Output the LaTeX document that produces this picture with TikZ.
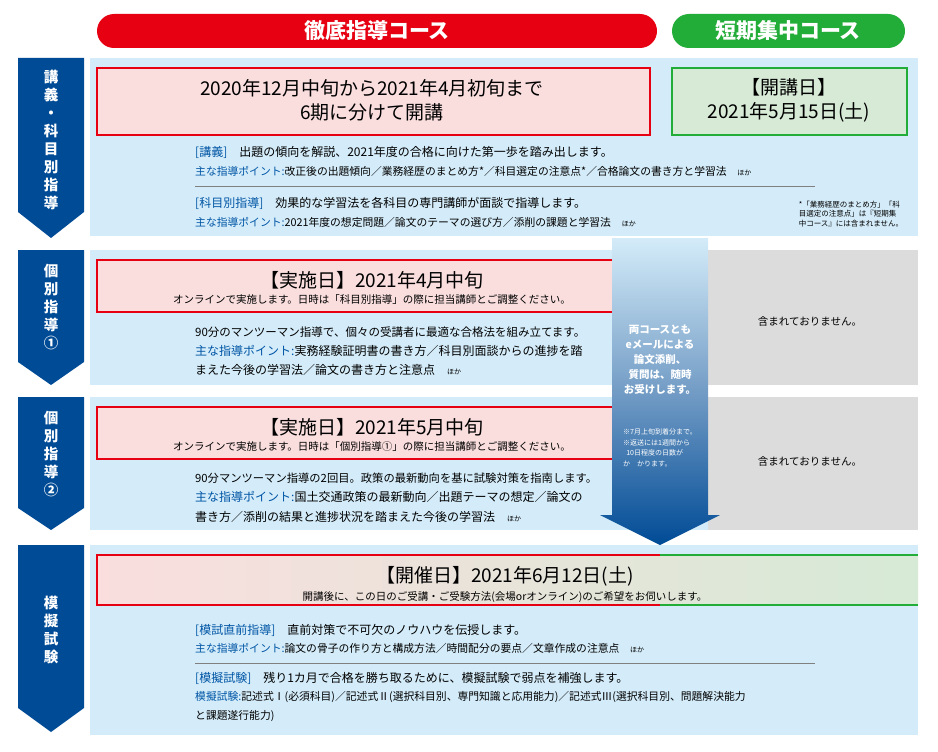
\documentclass[tikz,border=0pt]{standalone}
\usepackage{fontspec}
\setmainfont{Noto Sans CJK JP}
\usetikzlibrary{positioning}
\definecolor{tabblue}{RGB}{0,75,150}
\definecolor{bgblue}{RGB}{212,236,249}
\definecolor{pink}{RGB}{250,222,222}
\definecolor{lgreen}{RGB}{214,234,214}
\definecolor{cred}{RGB}{230,0,18}
\definecolor{cgreen}{RGB}{34,172,56}
\definecolor{lblue}{RGB}{0,85,165}
\definecolor{gry}{RGB}{220,220,220}
\newcommand{\hl}[1]{\textcolor{lblue}{#1}}
\tikzset{
  pill/.style={rounded corners=17pt, text=white, font=\fontsize{21}{21}\selectfont\bfseries},
  tabtxt/.style={text=white, align=center, font=\fontsize{14.5}{18}\selectfont\bfseries},
  body/.style={anchor=west, inner sep=0pt, font=\fontsize{12}{13}\selectfont},
  pbody/.style={anchor=west, inner sep=0pt, font=\fontsize{10.8}{13}\selectfont},
  small/.style={inner sep=0pt, font=\fontsize{10.5}{12}\selectfont},
  big/.style={inner sep=0pt, align=center, font=\fontsize{19}{24}\selectfont},
}
\begin{document}
\begin{tikzpicture}[x=1pt,y=-1pt]
\useasboundingbox (0,0) rectangle (938,752);
\fill[white] (0,0) rectangle (938,752);
%% headers
\fill[cred,pill] (97,14) rectangle (657,48);
\node[pill] (hdr1) at (377,31) {徹底指導コース};
\fill[cgreen,pill] (672,14) rectangle (905,48);
\node[pill] (hdr2) at (788,31) {短期集中コース};
%% backgrounds
\fill[bgblue] (90,58) rectangle (918,236);
\fill[bgblue] (90,250) rectangle (708,385);
\fill[gry]    (708,250) rectangle (918,385);
\fill[bgblue] (90,397) rectangle (708,530);
\fill[gry]    (708,397) rectangle (918,530);
\fill[bgblue] (90,545) rectangle (918,735);
%% tabs
\fill[tabblue] (18,58) -- (84,58) -- (84,212) -- (51,238) -- (18,212) -- cycle;
\fill[tabblue] (18,250) -- (84,250) -- (84,362) -- (51,385) -- (18,362) -- cycle;
\fill[tabblue] (18,397) -- (84,397) -- (84,508) -- (51,530) -- (18,508) -- cycle;
\fill[tabblue] (18,545) -- (84,545) -- (84,708) -- (51,732) -- (18,708) -- cycle;
\node[tabtxt] (tab1) at (51,140) {講\\義\\・\\科\\目\\別\\指\\導};
\node[tabtxt] (tab2) at (51,307) {個\\別\\指\\導\\①};
\node[tabtxt] (tab3) at (51,454) {個\\別\\指\\導\\②};
\node[tabtxt] (tab4) at (51,630) {模\\擬\\試\\験};
%% section 1
\draw[cred,line width=2pt,fill=pink] (97,68) rectangle (650,135);
\node[big] (per1) at (372,100) {2020年12月中旬から2021年4月初旬まで\\6期に分けて開講};
\draw[cgreen,line width=2pt,fill=lgreen] (672,68) rectangle (907,135);
\node[big] (day1) at (789,100) {【開講日】\\2021年5月15日(土)};
\node[body] (l11) at (195,152) {\hl{[講義]}\quad 出題の傾向を解説、2021年度の合格に向けた第一歩を踏み出します。};
\node[pbody] (l12) at (195,171) {\hl{主な指導ポイント:}改正後の出題傾向／業務経歴のまとめ方*／科目選定の注意点*／合格論文の書き方と学習法\quad{\scriptsize ほか}};
\draw[gray] (195,186) -- (815,186);
\node[body] (l13) at (195,203) {\hl{[科目別指導]}\quad 効果的な学習法を各科目の専門講師が面談で指導します。};
\node[pbody] (l14) at (195,222) {\hl{主な指導ポイント:}2021年度の想定問題／論文のテーマの選び方／添削の課題と学習法\quad{\scriptsize ほか}};
\node[small,align=left,font=\fontsize{7.5}{9.5}\selectfont] (note1) at (851,214) {*「業務経歴のまとめ方」「科\\目選定の注意点」は『短期集\\中コース』には含まれません。};
%% arrow
\shade[top color=bgblue, bottom color=tabblue, middle color=tabblue!55]
  (612,238) -- (708,238) -- (708,515) -- (720,515) -- (660,545) -- (600,515) -- (612,515) -- cycle;
\node[text=white,align=center,font=\fontsize{10.5}{15}\selectfont\bfseries] (arr1) at (660,360) {両コースとも\\eメールによる\\論文添削、\\質問は、随時\\お受けします。};
\node[text=white,align=left,font=\fontsize{7}{10.5}\selectfont] (arr2) at (660,448) {※7月上旬到着分まで。\\※返送には1週間から\\\ \ 10日程度の日数が\\か\quad かります。};
%% section 2
\draw[cred,line width=2pt,fill=pink] (612,260) -- (97,260) -- (97,312) -- (612,312);
\node[big] (ds2) at (372,280) {【実施日】2021年4月中旬};
\node[small] (ds2b) at (372,300) {オンラインで実施します。日時は「科目別指導」の際に担当講師とご調整ください。};
\node[body,font=\fontsize{11.5}{13}\selectfont] (l21) at (195,332) {90分のマンツーマン指導で、個々の受講者に最適な合格法を組み立てます。};
\node[body] (l22) at (195,351) {\hl{主な指導ポイント:}実務経験証明書の書き方／科目別面談からの進捗を踏};
\node[body] (l23) at (195,370) {まえた今後の学習法／論文の書き方と注意点\quad{\scriptsize ほか}};
\node[font=\fontsize{10.5}{12}\selectfont] (na2) at (810,322) {含まれておりません。};
%% section 3
\draw[cred,line width=2pt,fill=pink] (612,407) -- (97,407) -- (97,459) -- (612,459);
\node[big] (ds3) at (372,427) {【実施日】2021年5月中旬};
\node[small] (ds3b) at (372,447) {オンラインで実施します。日時は「個別指導①」の際に担当講師とご調整ください。};
\node[body,font=\fontsize{11.3}{13}\selectfont] (l31) at (195,478) {90分マンツーマン指導の2回目。政策の最新動向を基に試験対策を指南します。};
\node[body] (l32) at (195,497) {\hl{主な指導ポイント:}国土交通政策の最新動向／出題テーマの想定／論文の};
\node[body] (l33) at (195,517) {書き方／添削の結果と進捗状況を踏まえた今後の学習法\quad{\scriptsize ほか}};
\node[font=\fontsize{10.5}{12}\selectfont] (na3) at (810,462) {含まれておりません。};
%% section 4
\shade[left color=pink, right color=lgreen] (97,555) rectangle (918,605);
\draw[cred,line width=2pt] (660,555) -- (97,555) -- (97,605) -- (660,605);
\draw[cgreen,line width=2pt] (660,555) -- (918,555) (660,605) -- (918,605);
\node[big] (ds4) at (505,576) {【開催日】2021年6月12日(土)};
\node[small] (ds4b) at (505,597) {開講後に、この日のご受講・ご受験方法(会場orオンライン)のご希望をお伺いします。};
\node[body] (l41) at (195,630) {\hl{[模試直前指導]}\quad 直前対策で不可欠のノウハウを伝授します。};
\node[pbody] (l42) at (195,648) {\hl{主な指導ポイント:}論文の骨子の作り方と構成方法／時間配分の要点／文章作成の注意点\quad{\scriptsize ほか}};
\draw[gray] (195,663) -- (815,663);
\node[body] (l43) at (195,678) {\hl{[模擬試験]}\quad 残り1カ月で合格を勝ち取るために、模擬試験で弱点を補強します。};
\node[pbody] (l44) at (195,697) {\hl{模擬試験:}記述式Ⅰ(必須科目)／記述式Ⅱ(選択科目別、専門知識と応用能力)／記述式Ⅲ(選択科目別、問題解決能力};
\node[pbody] (l45) at (195,716) {と課題遂行能力)};
\end{tikzpicture}
\end{document}
